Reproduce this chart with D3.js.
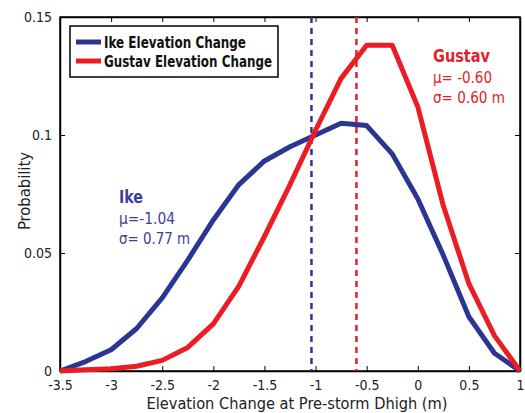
<!DOCTYPE html>
<html><head><meta charset="utf-8">
<script src="https://cdn.jsdelivr.net/npm/d3@7"></script>
<style>
body{margin:0;background:#fff;}
text{font-family:"DejaVu Sans Condensed","Liberation Sans Narrow",sans-serif;}
</style></head>
<body><svg id="c" width="525" height="413"></svg>
<script>
const xVals = [-3.5,-3.25,-3,-2.75,-2.5,-2.25,-2,-1.75,-1.5,-1.25,-1,-0.75,-0.5,-0.25,0,0.25,0.5,0.75,1];
const ikeVals = [0,0.004,0.009,0.018,0.031,0.047,0.064,0.079,0.089,0.095,0.1,0.105,0.104,0.092,0.073,0.049,0.023,0.0075,0];
const gustavVals = [0,0.0005,0.001,0.002,0.0045,0.01,0.02,0.036,0.057,0.079,0.102,0.124,0.138,0.138,0.112,0.07,0.037,0.015,0];
const xTicks = [-3.5,-3,-2.5,-2,-1.5,-1,-0.5,0,0.5,1];
const yTicks = [0,0.05,0.1,0.15];
const means = [-1.04,-0.60];
const seriesNames = ["Ike Elevation Change","Gustav Elevation Change"];
const colors = ["#2b3592","#ec1c24"];

const svg = d3.select("#c");
const L=60,R=520,T=17,B=371;
const x = d3.scaleLinear().domain([-3.5,1]).range([L,R]);
const y = d3.scaleLinear().domain([0,0.15]).range([B,T]);

svg.append("rect").attr("x",L).attr("y",T).attr("width",R-L).attr("height",B-T).attr("fill","none").attr("stroke","#000").attr("stroke-width",1.5);

const fmtY = d=> d===0?"0":String(d);
const fmtX = d=> String(d);
const ax = svg.append("g").attr("transform",`translate(0,${B})`).call(d3.axisBottom(x).tickValues(xTicks).tickFormat(fmtX).tickSizeInner(-5).tickSizeOuter(0).tickPadding(9));
const axT = svg.append("g").attr("transform",`translate(0,${T})`).call(d3.axisTop(x).tickValues(xTicks).tickFormat("").tickSizeInner(-5).tickSizeOuter(0));
const ay = svg.append("g").attr("transform",`translate(${L},0)`).call(d3.axisLeft(y).tickValues(yTicks).tickFormat(fmtY).tickSizeInner(-5).tickSizeOuter(0).tickPadding(8));
const ayR = svg.append("g").attr("transform",`translate(${R},0)`).call(d3.axisRight(y).tickValues(yTicks).tickFormat("").tickSizeInner(-5).tickSizeOuter(0));
[ax,axT,ay,ayR].forEach(g=>{g.select(".domain").attr("stroke","#000").attr("stroke-width",1.5);g.selectAll(".tick line").attr("stroke","#000");g.selectAll("text").attr("font-size",14).attr("fill","#222").style("font-family",'"DejaVu Sans Condensed",sans-serif');});

means.forEach((m,i)=>{
  svg.append("line").attr("x1",x(m)).attr("x2",x(m)).attr("y1",T).attr("y2",B)
    .attr("stroke",colors[i]).attr("stroke-width",2.5).attr("stroke-dasharray","6,5");
});

const line = d3.line().x((d,i)=>x(xVals[i])).y(d=>y(d));
[ikeVals,gustavVals].forEach((vals,i)=>{
  svg.append("path").datum(vals).attr("d",line).attr("fill","none").attr("stroke",colors[i]).attr("stroke-width",5).attr("stroke-linejoin","round");
});

// legend
svg.append("rect").attr("x",70).attr("y",26).attr("width",208).attr("height",51).attr("fill","#fff").attr("stroke","#000").attr("stroke-width",1.5);
const legW=[142,168];
seriesNames.forEach((n,i)=>{
  const yy = 42 + i*19;
  svg.append("line").attr("x1",76).attr("x2",101).attr("y1",yy).attr("y2",yy).attr("stroke",colors[i]).attr("stroke-width",5);
  svg.append("text").attr("x",104).attr("y",yy+5.5).attr("font-size",15).attr("font-weight","bold").attr("fill","#111")
    .attr("textLength",legW[i]).attr("lengthAdjust","spacingAndGlyphs").text(n);
});

function ann(x0,y0,name,mu,sig,col,w){
  svg.append("text").attr("x",x0).attr("y",y0).attr("font-size",18).attr("font-weight","bold").attr("fill",col).attr("textLength",w[0]).attr("lengthAdjust","spacingAndGlyphs").text(name);
  svg.append("text").attr("x",x0).attr("y",y0+21).attr("font-size",16).attr("fill",col).attr("textLength",w[1]).attr("lengthAdjust","spacingAndGlyphs").text("\u03bc="+mu);
  svg.append("text").attr("x",x0).attr("y",y0+41).attr("font-size",16).attr("fill",col).attr("textLength",w[2]).attr("lengthAdjust","spacingAndGlyphs").text("\u03c3= "+sig);
}
ann(433,62,"Gustav"," -0.60","0.60 m","#e3202b",[57,59,72]);
ann(119,203,"Ike","-1.04","0.77 m","#3b3f98",[24,56,71]);

svg.append("text").attr("x",297).attr("y",409).attr("text-anchor","middle").attr("font-size",16).attr("fill","#222")
  .attr("textLength",301).attr("lengthAdjust","spacingAndGlyphs").text("Elevation Change at Pre-storm Dhigh (m)");
svg.append("text").attr("transform","translate(30,191) rotate(-90)").attr("text-anchor","middle").attr("font-size",16).attr("fill","#222")
  .attr("textLength",78).attr("lengthAdjust","spacingAndGlyphs").text("Probability");
</script></body></html>
